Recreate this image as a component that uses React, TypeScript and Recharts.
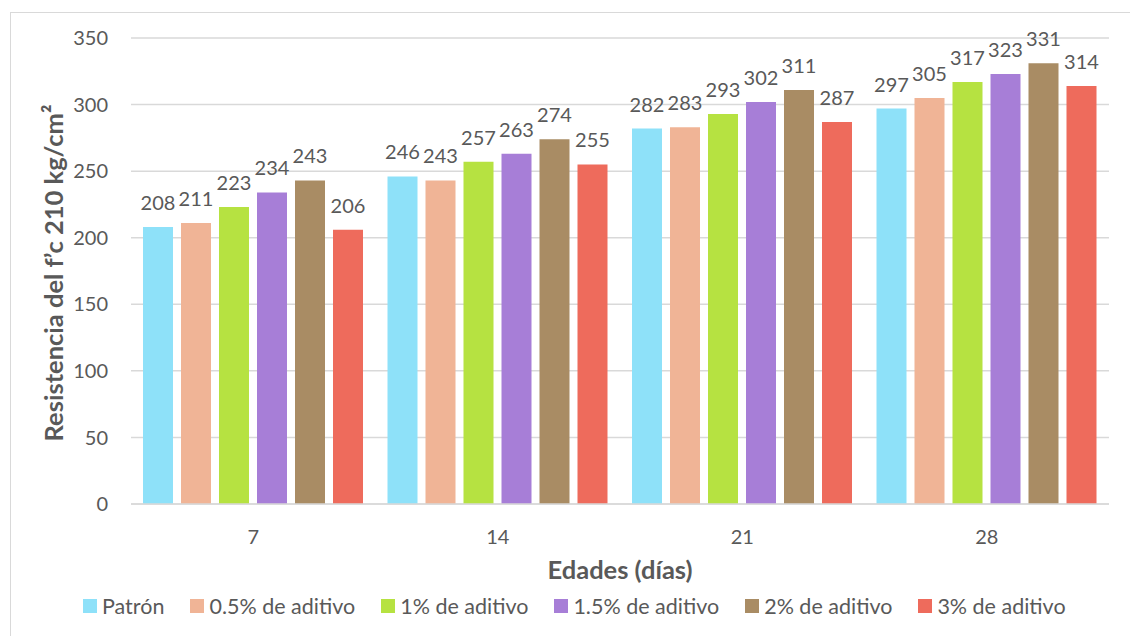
import React from 'react';
import { BarChart, Bar, XAxis, YAxis, CartesianGrid, Legend, LabelList, Label } from 'recharts';

const categories = ['7', '14', '21', '28'];
const seriesNames = ['Patrón', '0.5% de aditivo', '1% de aditivo', '1.5% de aditivo', '2% de aditivo', '3% de aditivo'];
const patron = [208, 246, 282, 297];
const aditivo05 = [211, 243, 283, 305];
const aditivo1 = [223, 257, 293, 317];
const aditivo15 = [234, 263, 302, 323];
const aditivo2 = [243, 274, 311, 331];
const aditivo3 = [206, 255, 287, 314];
const yTicks = [0, 50, 100, 150, 200, 250, 300, 350];
const colors = ['#8EE1F9', '#F0B496', '#B6E241', '#A77ED7', '#A98C64', '#EE6B5C'];

const seriesValues = [patron, aditivo05, aditivo1, aditivo15, aditivo2, aditivo3];
const keys = ['s0', 's1', 's2', 's3', 's4', 's5'];

const data = categories.map((c, i) => {
  const row: any = { edad: c };
  keys.forEach((k, j) => { row[k] = seriesValues[j][i]; });
  return row;
});

const FONT = 'Lato, "Open Sans", sans-serif';
const TXT = '#595959';
const GRID = '#D9D9D9';

const renderLegend = (props: any) => {
  const payload = [...(props.payload || [])].sort(
    (a: any, b: any) => seriesNames.indexOf(a.value) - seriesNames.indexOf(b.value)
  );
  return (
    <div style={{ display: 'flex', alignItems: 'center', height: 24, fontFamily: FONT, fontSize: 21.5, color: TXT, whiteSpace: 'nowrap' }}>
      {payload.map((p: any, i: number) => (
        <div key={i} style={{ display: 'flex', alignItems: 'center', marginRight: i < payload.length - 1 ? 26 : 0 }}>
          <div style={{ width: 14, height: 14, background: p.color, marginRight: 5 }} />
          <span>{p.value}</span>
        </div>
      ))}
    </div>
  );
};

export default function App() {
  return (
    <div style={{ position: 'absolute', left: 0, top: 0, width: 1130, height: 636, overflow: 'hidden', background: '#fff', fontFamily: FONT }}>
      <div style={{ position: 'absolute', left: 10, top: 12, width: 1200, height: 700, border: `1px solid ${GRID}`, boxSizing: 'border-box' }} />
      <div style={{ position: 'absolute', left: 0, top: 0 }}>
        <BarChart
          width={1130}
          height={636}
          data={data}
          margin={{ top: 38, right: 21, left: 0, bottom: 48 }}
          barCategoryGap={12}
          barGap={8}
        >
          <CartesianGrid vertical={false} stroke={GRID} strokeWidth={1.5} />
          <XAxis
            dataKey="edad"
            height={60}
            tickLine={false}
            tickSize={0}
            tickMargin={26}
            axisLine={{ stroke: GRID, strokeWidth: 1.5 }}
            tick={{ fill: TXT, fontSize: 20, fontFamily: FONT }}
          >
            <Label value="Edades (días)" position="bottom" offset={-3} style={{ fill: TXT, fontSize: 25.5, fontWeight: 700, fontFamily: FONT }} />
          </XAxis>
          <YAxis
            width={131}
            domain={[0, 350]}
            ticks={yTicks}
            tickLine={false}
            tickSize={0}
            tickMargin={23}
            axisLine={false}
            tick={{ fill: TXT, fontSize: 20, fontFamily: FONT }}
          >
            <Label
              content={({ viewBox }: any) => {
                const x = viewBox.x + 53;
                const y = viewBox.y + viewBox.height / 2 + 2;
                return (
                  <text x={x} y={y} transform={`rotate(-90 ${x} ${y})`} textAnchor="middle" dominantBaseline="central" fill={TXT} fontSize={25.5} fontWeight={700} fontFamily={FONT}>
                    Resistencia del f’c 210 kg/cm²
                  </text>
                );
              }}
            />
          </YAxis>
          <Legend
            verticalAlign="bottom"
            content={renderLegend}
            wrapperStyle={{ left: 83, top: 594, bottom: 'auto', width: 'auto' }}
          />
          {keys.map((k, j) => (
            <Bar key={k} dataKey={k} name={seriesNames[j]} fill={colors[j]} isAnimationActive={false}>
              <LabelList dataKey={k} position="top" offset={17} fill={TXT} fontSize={20} fontFamily={FONT} />
            </Bar>
          ))}
        </BarChart>
      </div>
    </div>
  );
}
